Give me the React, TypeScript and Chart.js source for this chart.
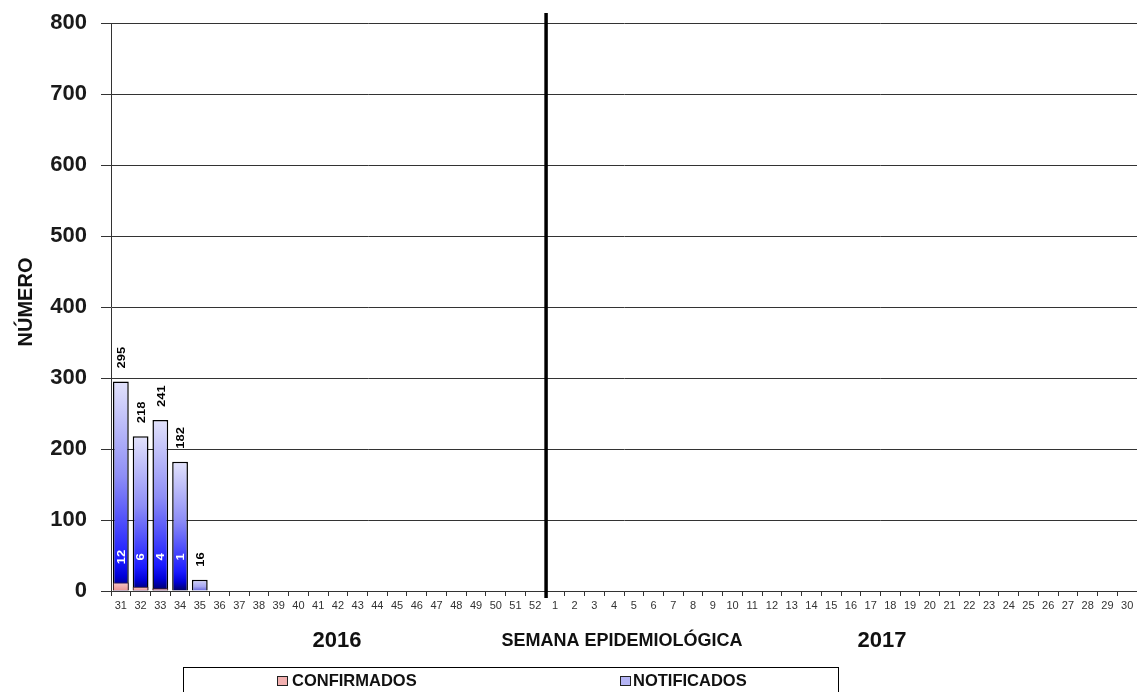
import React, { useEffect, useRef } from "react";
import { Chart, registerables } from "chart.js";

Chart.register(...registerables);

const weeks2016 = ["31", "32", "33", "34", "35", "36", "37", "38", "39", "40", "41", "42", "43", "44", "45", "46", "47", "48", "49", "50", "51", "52"];
const weeks2017 = ["1", "2", "3", "4", "5", "6", "7", "8", "9", "10", "11", "12", "13", "14", "15", "16", "17", "18", "19", "20", "21", "22", "23", "24", "25", "26", "27", "28", "29", "30"];
const categories = [...weeks2016, ...weeks2017];

const confirmados = [12, 6, 4, 1];
const notificados = [295, 218, 241, 182, 16];

const yTicks = [0, 100, 200, 300, 400, 500, 600, 700, 800];

const FONT = '"Liberation Sans", Arial, sans-serif';

function blueGradient(ctx: any) {
  const chart = ctx.chart;
  const y = chart.scales && chart.scales.y;
  if (!y || ctx.type !== "data") return "#9090f0";
  const v = ctx.raw as number;
  const top = y.getPixelForValue(v);
  const base = y.getPixelForValue(0);
  if (!isFinite(top) || !isFinite(base) || Math.abs(base - top) < 1) return "#9090f0";
  const g = chart.ctx.createLinearGradient(0, top, 0, base);
  if (base - top < 30) {
    g.addColorStop(0, "#d4d4f8");
    g.addColorStop(0.6, "#a8a8f0");
    g.addColorStop(1, "#6060d8");
    return g;
  }
  g.addColorStop(0, "#e2e2fb");
  g.addColorStop(0.45, "#8e8ef6");
  g.addColorStop(0.85, "#1a1aff");
  g.addColorStop(0.93, "#0000d8");
  g.addColorStop(1, "#000060");
  return g;
}

function pinkGradient(ctx: any) {
  const chart = ctx.chart;
  const y = chart.scales && chart.scales.y;
  if (!y || ctx.type !== "data") return "#f2b0b0";
  const v = ctx.raw as number;
  const top = y.getPixelForValue(v);
  const base = y.getPixelForValue(0);
  if (!isFinite(top) || !isFinite(base) || Math.abs(base - top) < 1) return "#f2b0b0";
  const g = chart.ctx.createLinearGradient(0, top, 0, base);
  g.addColorStop(0, "#f8c8c8");
  g.addColorStop(1, "#e89090");
  return g;
}

const labelsPlugin = {
  id: "barLabels",
  afterDatasetsDraw(chart: any) {
    const ctx = chart.ctx;
    const yScale = chart.scales.y;
    const base = yScale.getPixelForValue(0);
    const metaN = chart.getDatasetMeta(1);
    metaN.data.forEach((bar: any, i: number) => {
      const v = notificados[i];
      if (v == null) return;
      ctx.save();
      ctx.translate(bar.x + 1.5, bar.y - 13);
      ctx.rotate(-Math.PI / 2);
      ctx.scale(1.3, 1);
      ctx.font = `bold 10px ${FONT}`;
      ctx.textAlign = "left";
      ctx.textBaseline = "middle";
      ctx.fillStyle = "#000";
      ctx.fillText(String(v), 0, 0);
      ctx.restore();
    });
    const metaC = chart.getDatasetMeta(0);
    metaC.data.forEach((bar: any, i: number) => {
      const v = confirmados[i];
      if (v == null) return;
      ctx.save();
      ctx.translate(bar.x + 1, base - 34);
      ctx.rotate(-Math.PI / 2);
      ctx.scale(1.3, 1);
      ctx.font = `bold 10px ${FONT}`;
      ctx.textAlign = "center";
      ctx.textBaseline = "middle";
      ctx.fillStyle = "#fff";
      ctx.fillText(String(v), 0, 0);
      ctx.restore();
    });
  },
};

const decorPlugin = {
  id: "decor",
  afterDraw(chart: any) {
    const ctx = chart.ctx;
    const x = chart.scales.x;
    const area = chart.chartArea;
    // divider between years
    const xd = (x.getPixelForValue(weeks2016.length - 1) + x.getPixelForValue(weeks2016.length)) / 2 + 1;
    ctx.save();
    ctx.strokeStyle = "#000";
    ctx.lineWidth = 3.5;
    ctx.beginPath();
    ctx.moveTo(xd, 13);
    ctx.lineTo(xd, area.bottom + 7);
    ctx.stroke();
    ctx.restore();

    // y title
    ctx.save();
    ctx.translate(26, 302);
    ctx.rotate(-Math.PI / 2);
    ctx.font = `bold 20px ${FONT}`;
    ctx.textAlign = "center";
    ctx.textBaseline = "middle";
    ctx.fillStyle = "#111";
    ctx.fillText("NÚMERO", 0, 0);
    ctx.restore();

    // x titles
    ctx.save();
    ctx.fillStyle = "#111";
    ctx.textBaseline = "middle";
    ctx.textAlign = "center";
    ctx.font = `bold 22px ${FONT}`;
    ctx.fillText("2016", 337, 641);
    ctx.fillText("2017", 882, 641);
    ctx.font = `bold 18px ${FONT}`;
    ctx.fillText("SEMANA EPIDEMIOLÓGICA", 622, 641);
    ctx.restore();

    // legend
    ctx.save();
    ctx.strokeStyle = "#000";
    ctx.lineWidth = 1;
    ctx.strokeRect(183.5, 667.5, 655, 40);
    ctx.font = `bold 16.5px ${FONT}`;
    ctx.textBaseline = "middle";
    ctx.textAlign = "left";
    const items = [
      { label: chart.data.datasets[0].label, color: "#f2b0b0", x: 277, tx: 292 },
      { label: chart.data.datasets[1].label, color: "#b4b4f4", x: 620, tx: 633 },
    ];
    items.forEach((it) => {
      ctx.fillStyle = it.color;
      ctx.fillRect(it.x, 676, 11, 10);
      ctx.strokeStyle = "#222";
      ctx.strokeRect(it.x + 0.5, 676.5, 10, 9);
      ctx.fillStyle = "#111";
      ctx.fillText(it.label, it.tx, 681.5);
    });
    ctx.restore();
  },
};

export default function App() {
  const ref = useRef<HTMLCanvasElement | null>(null);
  useEffect(() => {
    if (!ref.current) return;
    const chart = new Chart(ref.current, {
      type: "bar",
      data: {
        labels: categories,
        datasets: [
          {
            label: "CONFIRMADOS",
            data: confirmados,
            backgroundColor: pinkGradient,
            borderColor: "#402020",
            borderWidth: 1,
            grouped: false,
            categoryPercentage: 1,
            barPercentage: 0.8,
          } as any,
          {
            label: "NOTIFICADOS",
            data: notificados,
            backgroundColor: blueGradient,
            borderColor: "#000",
            borderWidth: 1.5,
            grouped: false,
            categoryPercentage: 1,
            barPercentage: 0.8,
          } as any,
        ],
      },
      options: {
        responsive: false,
        animation: false,
        layout: { padding: { top: 23, left: 0, right: -2, bottom: 0 } },
        plugins: {
          legend: { display: false },
          tooltip: { enabled: false },
        },
        scales: {
          x: {
            offset: true,
            grid: {
              offset: true,
              drawOnChartArea: false,
              drawTicks: true,
              tickLength: 5,
              color: "#333",
            },
            border: { display: true, color: "#333", width: 1 },
            ticks: {
              autoSkip: false,
              maxRotation: 0,
              minRotation: 0,
              padding: 3,
              color: "#333",
              font: { family: FONT, size: 11 },
            },
            afterFit: (s: any) => {
              s.height = 101;
            },
          },
          y: {
            min: 0,
            max: 800,
            afterBuildTicks: (s: any) => {
              s.ticks = yTicks.map((v) => ({ value: v }));
            },
            grid: {
              color: "#333",
              lineWidth: 1,
              tickLength: 10,
              drawTicks: true,
            },
            border: { display: true, color: "#333", width: 1 },
            ticks: {
              padding: 14,
              color: "#1a1a1a",
              font: { family: FONT, size: 22, weight: "bold" },
            },
            afterFit: (s: any) => {
              s.width = 111;
              s.paddingTop = 0;
              s.paddingBottom = 0;
            },
          },
        },
      },
      plugins: [labelsPlugin, decorPlugin],
    });
    return () => chart.destroy();
  }, []);
  return (
    <div style={{ position: "fixed", left: 0, top: 0, width: 1137, height: 692, background: "#fff" }}>
      <canvas ref={ref} width={1137} height={692} />
    </div>
  );
}
